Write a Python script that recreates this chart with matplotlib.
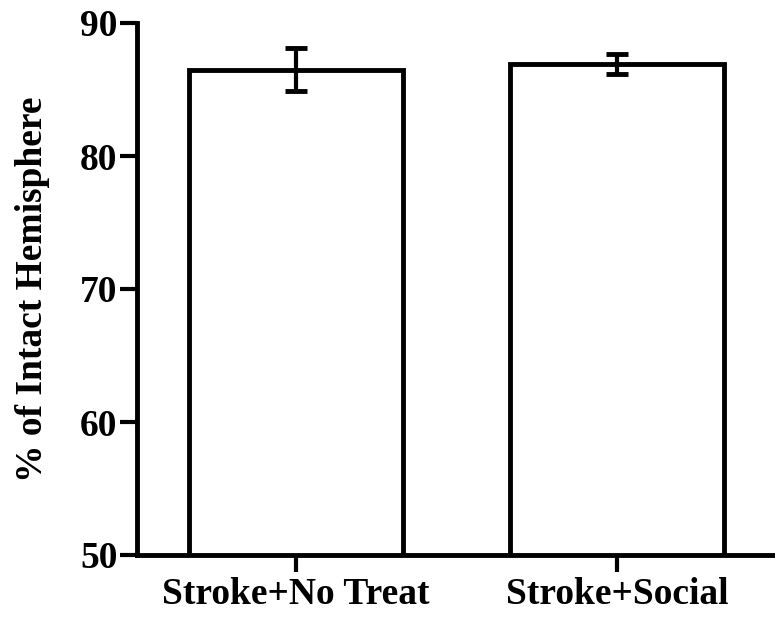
import matplotlib
matplotlib.use("Agg")
import matplotlib.pyplot as plt

categories = ["Stroke+No Treat", "Stroke+Social"]
means = [86.5, 86.9]
errors = [1.65, 0.75]
yticks = [50, 60, 70, 80, 90]

plt.rcParams['font.family'] = ['Liberation Serif', 'DejaVu Serif']
plt.rcParams['font.weight'] = 'bold'

fig = plt.figure(figsize=(7.75, 6.18), dpi=100)
ax = fig.add_axes([137/775, 1-555/618, 1-137/775, (555-23)/618])

x = list(range(len(categories)))
ax.bar(x, means, width=0.665, color='white', edgecolor='black', linewidth=3.5, zorder=2)
ax.errorbar(x, means, yerr=errors, fmt='none', ecolor='black', elinewidth=3,
            capsize=8, capthick=3.5, zorder=3)

ax.set_ylim(50, 90)
ax.set_xlim(-0.495, 1.492)
ax.set_yticks(yticks)
ax.set_yticklabels([str(t) for t in yticks])
ax.set_xticks(x)
ax.set_xticklabels(categories)
for s in ['top', 'right']:
    ax.spines[s].set_visible(False)
for s in ['left', 'bottom']:
    ax.spines[s].set_linewidth(3.5)
ax.tick_params(axis='both', direction='out', length=12, width=3, labelsize=27, pad=2)
ax.tick_params(axis='x', pad=4)
for lab in ax.get_xticklabels() + ax.get_yticklabels():
    lab.set_fontweight('bold')
ax.set_ylabel("% of Intact Hemisphere", fontsize=27, fontweight='bold')
ax.yaxis.set_label_coords(-0.136, 0.5)

fig.savefig("out.png", dpi=100)
